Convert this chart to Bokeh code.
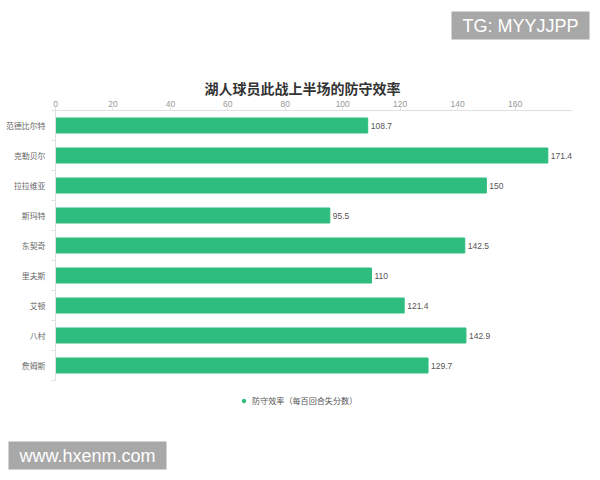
from bokeh.plotting import figure
from bokeh.models import Range1d, FixedTicker, Label, Legend, LegendItem, LinearAxis
from bokeh.core.properties import value
from bokeh.embed import file_html
from bokeh.resources import INLINE

players = ["范德比尔特", "克勒贝尔", "拉拉维亚", "斯玛特", "东契奇", "里夫斯", "艾顿", "八村", "詹姆斯"]
def_rating = [108.7, 171.4, 150, 95.5, 142.5, 110, 121.4, 142.9, 129.7]
x_ticks = [0, 20, 40, 60, 80, 100, 120, 140, 160]
x_max = 180
series_name = "防守效率（每百回合失分数）"
title_text = "湖人球员此战上半场的防守效率"

CJK = "Noto Sans CJK SC"
GREEN = "#2ebd7f"
AXIS_GREY = "#e0e0e0"

# canvas geometry (pixels); the plot frame covers the whole canvas and the
# axes are pinned inside it, so titles and marks outside the bars stay visible
W, H = 592, 472
AREA_LEFT, AREA_RIGHT = 55, 572
ROW0_Y, ROW_STEP = 125, 30

px_per_unit = (AREA_RIGHT - AREA_LEFT) / x_max
x_range = Range1d(-AREA_LEFT / px_per_unit, x_max + (W - AREA_RIGHT) / px_per_unit)
# rows: index 0 at top, flipped range
y_range = Range1d((H - ROW0_Y) / ROW_STEP, -ROW0_Y / ROW_STEP)

rows = list(range(len(players)))

p = figure(width=W, height=H, output_backend="svg", toolbar_location=None,
           x_range=x_range, y_range=y_range, x_axis_location=None, y_axis_location=None,
           min_border=0)
p.outline_line_color = None
p.grid.visible = False

p.hbar(y=rows, left=0, right=def_rating, height=0.5, fill_color=GREEN, line_color=GREEN)

# value labels at the bar ends
p.text(x=def_rating, y=rows, text=[str(v) for v in def_rating], x_offset=3,
       text_baseline="middle", text_font_size="8.5px", text_color="#555555",
       text_font=value("Liberation Sans"))

# value axis along the top of the bars
xa = LinearAxis(fixed_location=-0.5, bounds=(0, x_max), ticker=FixedTicker(ticks=x_ticks))
xa.axis_line_color = AXIS_GREY
xa.major_tick_line_color = AXIS_GREY
xa.major_tick_out = 3
xa.major_tick_in = 0
xa.minor_tick_line_color = None
xa.major_label_text_font_size = "8.5px"
xa.major_label_text_color = "#999999"
xa.major_label_text_font = "Liberation Sans"
xa.major_label_standoff = 1
p.add_layout(xa, "above")

# category axis, ticks between the rows
ya = LinearAxis(fixed_location=0, bounds=(-0.5, len(players) - 0.5),
                ticker=FixedTicker(ticks=rows, minor_ticks=[r - 0.5 for r in range(len(players) + 1)]))
ya.major_label_overrides = {r: name for r, name in zip(rows, players)}
ya.axis_line_color = AXIS_GREY
ya.major_tick_line_color = None
ya.minor_tick_line_color = AXIS_GREY
ya.minor_tick_out = 4
ya.minor_tick_in = 0
ya.major_label_text_font_size = "7.9px"
ya.major_label_text_color = "#666666"
ya.major_label_text_font = CJK
ya.major_label_standoff = 4
p.add_layout(ya, "left")

# legend marker (circle) via a renderer whose single point is never drawn;
# screen y counts up from the bottom
dot = p.scatter(x=[float("nan")], y=[float("nan")], marker="circle", size=7,
                fill_color=GREEN, line_color=GREEN)
legend = Legend(items=[LegendItem(label=series_name, renderers=[dot])],
                location=(239, H - 406), padding=0, margin=0, spacing=0,
                glyph_width=9, glyph_height=9, label_standoff=4,
                label_text_font=CJK, label_text_font_size="8.1px", label_text_color="#555555",
                border_line_color=None, background_fill_alpha=0)
p.add_layout(legend, "center")

p.add_layout(Label(x=302, y=H - 87, x_units="screen", y_units="screen", text=title_text,
                   text_align="center", text_baseline="middle", text_font=CJK,
                   text_font_size="14px", text_font_style="bold", text_color="#333333"))

# watermarks
wm = dict(x_units="screen", y_units="screen", text_align="center", text_baseline="middle",
          text_font="Liberation Sans", text_font_size="18px", text_color="white",
          background_fill_color="#a8a8a8", padding=dict(left=11, right=11, top=4, bottom=4))
p.add_layout(Label(x=520, y=H - 25, text="TG: MYYJJPP", **wm))
p.add_layout(Label(x=87, y=H - 455, text="www.hxenm.com", **wm))

open("out.html", "w").write(file_html(p, INLINE))
